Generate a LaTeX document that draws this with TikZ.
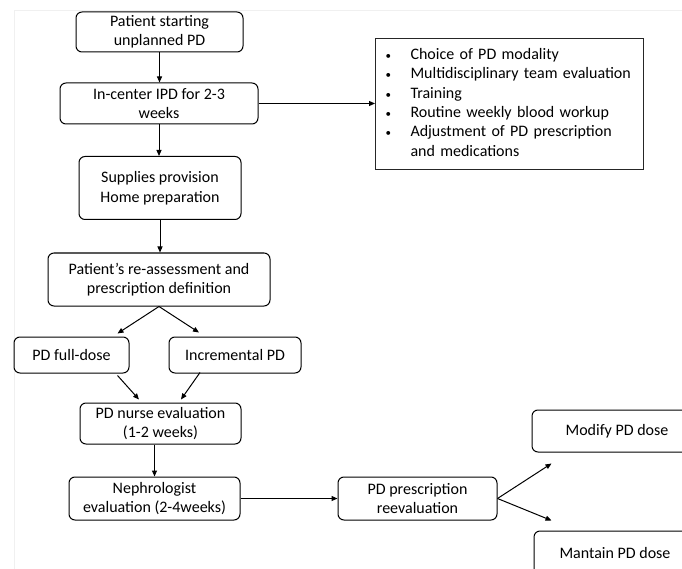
\documentclass[tikz,border=0pt]{standalone}
\usepackage{fontspec}
\setmainfont{Carlito}
\usetikzlibrary{arrows.meta,positioning,calc}
\begin{document}
\begin{tikzpicture}[x=1pt,y=-1pt,
  box/.style={draw,line width=1pt,rounded corners=6pt,align=center,inner sep=2pt,
    font=\fontsize{16pt}{19.5pt}\selectfont},
  arr/.style={-{Triangle[length=6pt,width=5pt]},line width=1pt}]
\useasboundingbox (0,0) rectangle (682,569);
\draw[black!6,line width=0.6pt] (14,569) -- (14,10) -- (682,10);
\node[box,minimum width=167pt,minimum height=40pt] (b1) at (159.5,32) {Patient starting\\unplanned PD};
\node[box,minimum width=198pt,minimum height=41pt] (b2) at (159,103.5) {In-center IPD for 2-3\\weeks};
\node[draw=black!85,line width=1pt,anchor=north west,minimum width=268pt,minimum height=127pt,
  inner xsep=10pt,inner ysep=7.5pt,align=left,font=\fontsize{16pt}{19.3pt}\selectfont,text width=248pt] (lst) at (375,38)
  {\begin{tabular}{@{}p{21pt}@{\hspace{4pt}}l@{}}
   {\fontsize{11pt}{11pt}\selectfont\textbullet} & Choice of PD modality\\
   {\fontsize{11pt}{11pt}\selectfont\textbullet} & Multidisciplinary team evaluation\\
   {\fontsize{11pt}{11pt}\selectfont\textbullet} & Training\\
   {\fontsize{11pt}{11pt}\selectfont\textbullet} & Routine weekly blood workup\\
   {\fontsize{11pt}{11pt}\selectfont\textbullet} & Adjustment of PD prescription\\
   & and medications
   \end{tabular}};
\node[box,minimum width=162pt,minimum height=63pt] (b3) at (160,188) {Supplies provision\\Home preparation};
\node[box,minimum width=222pt,minimum height=53pt] (b4) at (159,279.5) {Patient’s re-assessment and\\prescription definition};
\node[box,minimum width=115pt,minimum height=36pt] (b5) at (71.5,355) {PD full-dose};
\node[box,minimum width=132pt,minimum height=36pt] (b6) at (235,355) {Incremental PD};
\node[box,minimum width=161pt,minimum height=41pt] (b7) at (160.5,423.5) {PD nurse evaluation\\(1-2 weeks)};
\node[box,minimum width=171pt,minimum height=43pt] (b8) at (154.5,498.5) {Nephrologist\\evaluation (2-4weeks)};
\node[box,minimum width=159pt,minimum height=43pt] (b9) at (417.5,498.5) {PD prescription\\reevaluation};
\node[box,minimum width=170pt,minimum height=42pt] (b10) at (617,431) {Modify PD dose};
\node[box,minimum width=162pt,minimum height=44pt] (b11) at (615,553) {Mantain PD dose};
\draw[arr] (b1.south) -- (b1.south |- b2.north);
\draw[arr] (b2.east) -- (b2.east -| lst.west);
\draw[arr] (b2.south) -- (b2.south |- b3.north);
\draw[arr] (b3.south) -- (b3.south |- b4.north);
\draw[arr] (b4.south) -- ([xshift=46pt,yshift=3pt]b5.north);
\draw[arr] (b4.south) -- ([xshift=-36pt,yshift=4pt]b6.north);
\draw[arr] ([xshift=46pt,yshift=-2pt]b5.south) -- ([xshift=-21.5pt,yshift=3pt]b7.north);
\draw[arr] ([xshift=-35pt,yshift=1pt]b6.south) -- ([xshift=20.5pt,yshift=3pt]b7.north);
\draw[arr] (b7.south -| b8.north) -- (b8.north);
\draw[arr] (b8.east) -- (b9.west);
\draw[arr] (b9.east) -- ([xshift=20pt,yshift=-11pt]b10.south west);
\draw[arr] (b9.east) -- ([xshift=18pt,yshift=10pt]b11.north west);
\end{tikzpicture}
\end{document}
